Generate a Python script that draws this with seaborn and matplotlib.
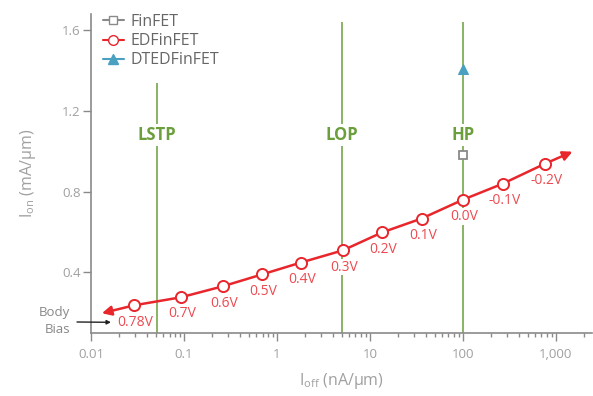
import matplotlib
matplotlib.use("Agg")
import matplotlib.pyplot as plt
import seaborn as sns
import pandas as pd
from matplotlib.lines import Line2D

# ---- data ----
body_bias = ["0.78V", "0.7V", "0.6V", "0.5V", "0.4V", "0.3V", "0.2V", "0.1V", "0.0V", "-0.1V", "-0.2V"]
ed_ioff = [0.029, 0.093, 0.26, 0.69, 1.81, 5.1, 13.5, 36, 100, 270, 760]
ed_ion = [0.237, 0.277, 0.331, 0.390, 0.449, 0.509, 0.598, 0.667, 0.760, 0.840, 0.938]
arrow_ioff = [0.0131, 1510]
arrow_ion = [0.198, 0.998]
fin_ioff = [100]
fin_ion = [0.98]
dted_ioff = [100]
dted_ion = [1.407]
node_names = ["LSTP", "LOP", "HP"]
node_ioff = [0.051, 5.0, 100]
node_top = [1.34, 1.64, 1.64]
node_label_y = 1.08
yticks = [0.4, 0.8, 1.2, 1.6]
xticks = [0.01, 0.1, 1, 10, 100, 1000]
xticklabels = ["0.01", "0.1", "1", "10", "100", "1,000"]

RED = "#e8262c"
RED_TXT = "#ec4a50"
GREEN = "#6a9f3c"
GREY = "#8a8a8a"
BLUE = "#4aa0c0"
TICK_TXT = "#a0a0a0"

sns.set_style("white")
plt.rcParams["font.family"] = ["Open Sans", "DejaVu Sans"]
plt.rcParams["mathtext.default"] = "regular"

fig = plt.figure(figsize=(5.93, 3.96), dpi=100)
ax = fig.add_axes([91/593, 1-333/396, 501/593, 319/396])

df = pd.DataFrame({"Ioff": ed_ioff, "Ion": ed_ion, "bias": body_bias})

# node vertical lines
ax.vlines(node_ioff, 0.1, node_top, color=GREEN, lw=1.1, zorder=1)
for nm, xv in zip(node_names, node_ioff):
    ax.text(xv, node_label_y, nm, color=GREEN, fontsize=12, fontweight="bold",
            ha="center", va="center", zorder=2,
            bbox=dict(facecolor="white", edgecolor="none", pad=1.5))

# arrow extensions
ax.annotate("", xy=(arrow_ioff[0], arrow_ion[0]), xytext=(ed_ioff[0], ed_ion[0]),
            arrowprops=dict(arrowstyle="-|>", color=RED, lw=1.8, mutation_scale=14,
                            shrinkA=0, shrinkB=0), zorder=3)
ax.annotate("", xy=(arrow_ioff[1], arrow_ion[1]), xytext=(ed_ioff[-1], ed_ion[-1]),
            arrowprops=dict(arrowstyle="-|>", color=RED, lw=1.8, mutation_scale=14,
                            shrinkA=0, shrinkB=0), zorder=3)

sns.lineplot(data=df, x="Ioff", y="Ion", ax=ax, color=RED, lw=1.8, marker="o",
             markersize=8, markerfacecolor="white", markeredgecolor=RED,
             markeredgewidth=1.4, zorder=4, sort=False)
sns.lineplot(x=fin_ioff, y=fin_ion, ax=ax, marker="s", markersize=6,
             markerfacecolor="white", markeredgecolor=GREY, markeredgewidth=1.3,
             color=GREY, zorder=5)
sns.lineplot(x=dted_ioff, y=dted_ion, ax=ax, marker="^", markersize=7,
             markerfacecolor=BLUE, markeredgecolor=BLUE, color=BLUE, zorder=5)

for xv, yv, lab in zip(ed_ioff, ed_ion, body_bias):
    ax.annotate(lab, (xv, yv), xytext=(1, -12), textcoords="offset points",
                ha="center", va="center", color=RED_TXT, fontsize=10, zorder=3,
                bbox=dict(facecolor="white", edgecolor="none", pad=0.5))

ax.set_xscale("log")
ax.set_xlim(0.01, 2450)
ax.set_ylim(0.1, 1.68)
ax.set_xticks(xticks)
ax.set_xticklabels(xticklabels)
ax.set_yticks(yticks)
ax.set_yticklabels([f"{v:.1f}" for v in yticks])

for s in ["top", "right"]:
    ax.spines[s].set_visible(False)
for s in ["left", "bottom"]:
    ax.spines[s].set_color(GREY)
    ax.spines[s].set_linewidth(1.2)

ax.tick_params(axis="both", which="major", direction="out", length=6, width=1,
               color=GREY, labelcolor=TICK_TXT, labelsize=9.5)
ax.tick_params(axis="x", which="minor", direction="out", length=3, width=1,
               color=GREY, bottom=True)
ax.tick_params(axis="x", which="major", bottom=True, pad=5)
ax.tick_params(axis="y", which="major", left=True, pad=1.5)

ax.set_xlabel("I$_{off}$ (nA/μm)", color=TICK_TXT, fontsize=11.5)
ax.set_ylabel("I$_{on}$ (mA/μm)", color=TICK_TXT, fontsize=11.5)
ax.xaxis.set_label_coords(0.5, -0.12)
ax.yaxis.set_label_coords(-0.105, 0.5)

handles = [
    Line2D([], [], color=GREY, marker="s", markersize=6, markerfacecolor="white",
           markeredgecolor=GREY, lw=1.5),
    Line2D([], [], color=RED, marker="o", markersize=7, markerfacecolor="white",
           markeredgecolor=RED, lw=1.5),
    Line2D([], [], color=BLUE, marker="^", markersize=7, markerfacecolor=BLUE,
           markeredgecolor=BLUE, lw=1.5),
]
leg = ax.legend(handles, ["FinFET", "EDFinFET", "DTEDFinFET"], loc="upper left",
                bbox_to_anchor=(-0.005, 1.045), frameon=False, fontsize=11.5,
                handlelength=1.3, handletextpad=0.4, labelspacing=0.2,
                labelcolor="#666666")

# Body Bias annotation
fig.text(70/593, 1-321/396, "Body\nBias", ha="right", va="center", color="#888888",
         fontsize=9.5, linespacing=1.4)
ax.annotate("", xy=(0.0164, 0.153), xycoords="data",
            xytext=(77, 396-322), textcoords="figure pixels",
            arrowprops=dict(arrowstyle="-|>", color="#222222", lw=1, mutation_scale=6,
                            shrinkA=0, shrinkB=0), annotation_clip=False)

fig.savefig("out.png", dpi=100)
